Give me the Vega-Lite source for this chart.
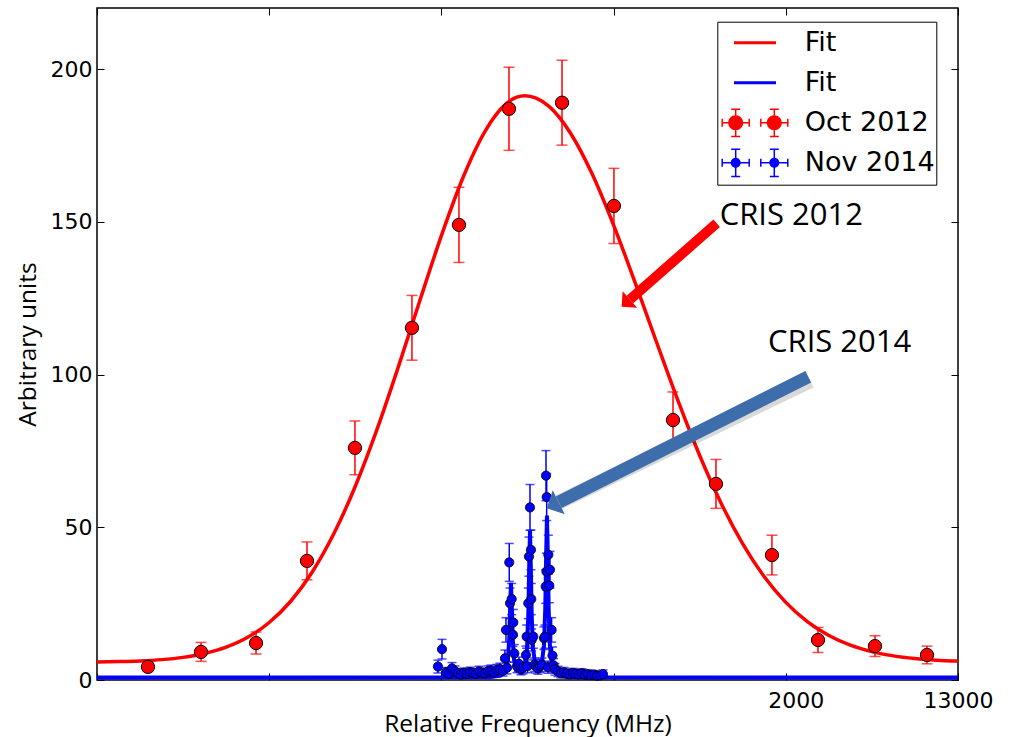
{
  "$schema": "https://vega.github.io/schema/vega-lite/v6.json",
  "width": 861,
  "height": 672,
  "autosize": {"type": "none"},
  "padding": {"left": 97, "top": 8, "right": 54, "bottom": 57},
  "background": "white",
  "config": {
    "view": {"stroke": "black", "strokeWidth": 1.5},
    "axis": {
      "grid": false,
      "domain": false,
      "tickColor": "black",
      "tickWidth": 1,
      "labelFont": "DejaVu Sans",
      "labelFontSize": 22,
      "labelColor": "black",
      "titleFont": "Open Sans",
      "titleFontSize": 24.5,
      "titleFontWeight": "normal",
      "titleColor": "black"
    }
  },
  "datasets": {
    "red": [
      {"x": -5408, "y": 4.3, "err": 1.5},
      {"x": -4792, "y": 9.2, "err": 3.1},
      {"x": -4153, "y": 12.1, "err": 3.6},
      {"x": -3561, "y": 39.0, "err": 6.2},
      {"x": -3004, "y": 76.0, "err": 8.8},
      {"x": -2342, "y": 115.3, "err": 10.6},
      {"x": -1796, "y": 149.0, "err": 12.3},
      {"x": -1215, "y": 187.0, "err": 13.6},
      {"x": -599, "y": 189.0, "err": 13.9},
      {"x": 4, "y": 155.2, "err": 12.3},
      {"x": 690, "y": 85.1, "err": 9.2},
      {"x": 1189, "y": 64.2, "err": 8.0},
      {"x": 1839, "y": 40.9, "err": 6.5},
      {"x": 2374, "y": 13.1, "err": 4.1},
      {"x": 3036, "y": 11.1, "err": 3.4},
      {"x": 3640, "y": 8.2, "err": 2.9}
    ],
    "blue": [
      {"x": -2040, "y": 4.4, "err": 2.1},
      {"x": -1993, "y": 10.1, "err": 3.2},
      {"x": -1947, "y": 2.5, "err": 1.6},
      {"x": -1912, "y": 2.0, "err": 1.4},
      {"x": -1877, "y": 3.8, "err": 1.9},
      {"x": -1842, "y": 2.9, "err": 1.7},
      {"x": -1807, "y": 2.2, "err": 1.5},
      {"x": -1773, "y": 1.8, "err": 1.3},
      {"x": -1738, "y": 2.4, "err": 1.5},
      {"x": -1703, "y": 2.0, "err": 1.4},
      {"x": -1668, "y": 2.6, "err": 1.6},
      {"x": -1633, "y": 2.3, "err": 1.5},
      {"x": -1598, "y": 2.0, "err": 1.4},
      {"x": -1564, "y": 2.8, "err": 1.7},
      {"x": -1529, "y": 2.4, "err": 1.5},
      {"x": -1494, "y": 2.2, "err": 1.5},
      {"x": -1459, "y": 2.9, "err": 1.7},
      {"x": -1424, "y": 3.1, "err": 1.8},
      {"x": -1389, "y": 2.5, "err": 1.6},
      {"x": -1354, "y": 3.3, "err": 1.8},
      {"x": -1320, "y": 3.6, "err": 1.9},
      {"x": -1285, "y": 3.0, "err": 1.7},
      {"x": -1262, "y": 7.1, "err": 2.7},
      {"x": -1250, "y": 16.4, "err": 4.0},
      {"x": -1238, "y": 4.0, "err": 2.0},
      {"x": -1212, "y": 38.5, "err": 6.2},
      {"x": -1203, "y": 25.1, "err": 5.0},
      {"x": -1184, "y": 26.5, "err": 5.1},
      {"x": -1169, "y": 14.8, "err": 3.8},
      {"x": -1165, "y": 18.8, "err": 4.3},
      {"x": -1153, "y": 8.7, "err": 2.9},
      {"x": -1122, "y": 4.5, "err": 2.1},
      {"x": -1099, "y": 5.2, "err": 2.3},
      {"x": -1076, "y": 3.6, "err": 1.9},
      {"x": -1053, "y": 4.0, "err": 2.0},
      {"x": -1018, "y": 8.2, "err": 2.9},
      {"x": -1010, "y": 14.2, "err": 3.8},
      {"x": -1000, "y": 4.5, "err": 2.1},
      {"x": -991, "y": 25.1, "err": 5.0},
      {"x": -983, "y": 40.4, "err": 6.4},
      {"x": -971, "y": 56.5, "err": 7.5},
      {"x": -960, "y": 42.6, "err": 6.5},
      {"x": -956, "y": 26.5, "err": 5.1},
      {"x": -952, "y": 13.1, "err": 3.6},
      {"x": -933, "y": 14.2, "err": 3.8},
      {"x": -919, "y": 5.0, "err": 2.2},
      {"x": -902, "y": 4.4, "err": 2.1},
      {"x": -878, "y": 3.9, "err": 2.0},
      {"x": -855, "y": 4.6, "err": 2.1},
      {"x": -832, "y": 5.0, "err": 2.2},
      {"x": -809, "y": 13.7, "err": 3.7},
      {"x": -797, "y": 14.2, "err": 3.8},
      {"x": -789, "y": 30.6, "err": 5.5},
      {"x": -785, "y": 66.9, "err": 8.2},
      {"x": -780, "y": 35.5, "err": 6.0},
      {"x": -777, "y": 59.9, "err": 7.7},
      {"x": -762, "y": 4.2, "err": 2.0},
      {"x": -758, "y": 41.0, "err": 6.4},
      {"x": -747, "y": 30.9, "err": 5.6},
      {"x": -739, "y": 36.1, "err": 6.0},
      {"x": -720, "y": 16.4, "err": 4.0},
      {"x": -710, "y": 8.0, "err": 2.8},
      {"x": -698, "y": 4.8, "err": 2.2},
      {"x": -681, "y": 3.5, "err": 1.9},
      {"x": -646, "y": 2.8, "err": 1.7},
      {"x": -611, "y": 2.2, "err": 1.5},
      {"x": -576, "y": 2.5, "err": 1.6},
      {"x": -541, "y": 2.1, "err": 1.4},
      {"x": -507, "y": 1.9, "err": 1.4},
      {"x": -472, "y": 2.3, "err": 1.5},
      {"x": -437, "y": 2.0, "err": 1.4},
      {"x": -402, "y": 1.8, "err": 1.3},
      {"x": -367, "y": 2.2, "err": 1.5},
      {"x": -332, "y": 1.7, "err": 1.3},
      {"x": -298, "y": 1.9, "err": 1.4},
      {"x": -263, "y": 1.6, "err": 1.3},
      {"x": -228, "y": 1.8, "err": 1.3},
      {"x": -193, "y": 1.4, "err": 1.2},
      {"x": -158, "y": 1.5, "err": 1.2},
      {"x": -123, "y": 1.9, "err": 1.4}
    ],
    "fit2012": [
      {"x": -6000, "y": 5.91},
      {"x": -5750, "y": 6.03},
      {"x": -5500, "y": 6.25},
      {"x": -5250, "y": 6.67},
      {"x": -5000, "y": 7.41},
      {"x": -4750, "y": 8.67},
      {"x": -4500, "y": 10.74},
      {"x": -4250, "y": 13.97},
      {"x": -4000, "y": 18.83},
      {"x": -3750, "y": 25.78},
      {"x": -3500, "y": 35.35},
      {"x": -3250, "y": 47.85},
      {"x": -3000, "y": 63.44},
      {"x": -2750, "y": 81.87},
      {"x": -2500, "y": 102.52},
      {"x": -2250, "y": 124.24},
      {"x": -2000, "y": 145.48},
      {"x": -1750, "y": 164.44},
      {"x": -1500, "y": 179.32},
      {"x": -1250, "y": 188.59},
      {"x": -1125, "y": 190.8},
      {"x": -1029, "y": 191.3},
      {"x": -900, "y": 190.5},
      {"x": -750, "y": 187.8},
      {"x": -500, "y": 179.0},
      {"x": -250, "y": 165.7},
      {"x": 0, "y": 148.9},
      {"x": 250, "y": 130.1},
      {"x": 500, "y": 110.5},
      {"x": 750, "y": 91.3},
      {"x": 1000, "y": 73.5},
      {"x": 1250, "y": 57.8},
      {"x": 1500, "y": 44.55},
      {"x": 1750, "y": 33.79},
      {"x": 2000, "y": 25.42},
      {"x": 2250, "y": 19.14},
      {"x": 2500, "y": 14.59},
      {"x": 2750, "y": 11.42},
      {"x": 3000, "y": 9.29},
      {"x": 3250, "y": 7.9},
      {"x": 3500, "y": 7.02},
      {"x": 3750, "y": 6.49},
      {"x": 4000, "y": 6.18}
    ],
    "fit2014": [
      {"x": -6000, "y": 0.8},
      {"x": -1442, "y": 0.9},
      {"x": -1312, "y": 1.4},
      {"x": -1252, "y": 3.1},
      {"x": -1227, "y": 6.7},
      {"x": -1212, "y": 13.8},
      {"x": -1202, "y": 23.7},
      {"x": -1192, "y": 31.8},
      {"x": -1182, "y": 23.7},
      {"x": -1172, "y": 13.8},
      {"x": -1157, "y": 6.7},
      {"x": -1132, "y": 3.1},
      {"x": -1072, "y": 2.4},
      {"x": -1031, "y": 4.7},
      {"x": -1006, "y": 10.1},
      {"x": -991, "y": 21.0},
      {"x": -981, "y": 36.3},
      {"x": -971, "y": 48.8},
      {"x": -961, "y": 36.3},
      {"x": -951, "y": 21.0},
      {"x": -936, "y": 10.5},
      {"x": -911, "y": 5.2},
      {"x": -864, "y": 3.8},
      {"x": -834, "y": 5.4},
      {"x": -809, "y": 11.4},
      {"x": -794, "y": 23.1},
      {"x": -784, "y": 40.0},
      {"x": -774, "y": 53.8},
      {"x": -764, "y": 40.0},
      {"x": -754, "y": 23.1},
      {"x": -739, "y": 10.9},
      {"x": -714, "y": 4.7},
      {"x": -654, "y": 1.9},
      {"x": -524, "y": 0.9},
      {"x": 4000, "y": 0.8}
    ],
    "legendItems": [
      {"series": "Fit (2012)"},
      {"series": "Fit (2014)"},
      {"series": "Oct 2012"},
      {"series": "Nov 2014"}
    ],
    "notes": [
      {"label": "CRIS 2012", "x": 1232, "y": 149.0},
      {"label": "CRIS 2014", "x": 1793, "y": 107.5}
    ],
    "arrowRed": [{"x": 1197, "y": 149.5, "x2": 190, "y2": 124.6, "hx": 141.4, "hy": 123.4}],
    "arrowBlue": [{"x": 2261, "y": 99.3, "x2": -637, "y2": 58.2, "hx": -707, "hy": 57.2}]
  },
  "layer": [
    {
      "data": {"name": "fit2012"},
      "mark": {"type": "line", "strokeWidth": 3.5, "interpolate": "monotone", "color": "#ff0000"},
      "encoding": {
        "x": {
          "field": "x", "type": "quantitative",
          "scale": {"domain": [-6000, 4000], "nice": false, "zero": false},
          "axis": {
            "orient": "bottom",
            "values": [-6000, -4000, -2000, 0, 2000, 4000],
            "labelExpr": "datum.value == 2000 ? '2000' : (datum.value == 4000 ? '13000' : '')",
            "labelOffset": {"condition": {"test": "datum.value == 2000", "value": 10}, "value": 0},
            "tickSize": -7,
            "labelPadding": 17,
            "labelOverlap": false,
            "labelFlush": false,
            "labelBound": false,
            "title": "Relative Frequency (MHz)",
            "titleBaseline": "alphabetic",
            "titleY": 51
          }
        },
        "y": {
          "field": "y", "type": "quantitative",
          "scale": {"domain": [0, 220], "nice": false, "zero": true},
          "axis": {
            "orient": "left",
            "values": [0, 50, 100, 150, 200],
            "tickSize": -7,
            "labelPadding": 12,
            "title": "Arbitrary units",
            "titleBaseline": "alphabetic",
            "titleAngle": -90,
            "titleAlign": "center",
            "titleX": -62,
            "titleY": 336
          }
        }
      }
    },
    {
      "data": {"name": "fit2014"},
      "mark": {"type": "line", "strokeWidth": 4, "interpolate": "linear", "color": "#0000ff"},
      "encoding": {
        "x": {"field": "x", "type": "quantitative", "axis": null},
        "y": {"field": "y", "type": "quantitative", "axis": null}
      }
    },
    {
      "data": {"name": "red"},
      "mark": {"type": "errorbar", "color": "#ff0000", "thickness": 1.5, "ticks": {"size": 11, "thickness": 1.5}},
      "encoding": {
        "x": {"field": "x", "type": "quantitative", "axis": null},
        "y": {"field": "y", "type": "quantitative", "axis": null},
        "yError": {"field": "err"}
      }
    },
    {
      "data": {"name": "red"},
      "mark": {"type": "circle", "size": 177, "color": "#ff0000", "opacity": 1, "stroke": "black", "strokeWidth": 1},
      "encoding": {
        "x": {"field": "x", "type": "quantitative", "axis": {"orient": "top", "values": [-6000, -4000, -2000, 0, 2000, 4000], "labels": false, "title": null, "tickSize": -7}},
        "y": {"field": "y", "type": "quantitative", "axis": {"orient": "right", "values": [0, 50, 100, 150, 200], "labels": false, "title": null, "tickSize": -7}}
      }
    },
    {
      "data": {"name": "blue"},
      "mark": {"type": "errorbar", "color": "#0000ff", "thickness": 1.5, "ticks": {"size": 9, "thickness": 1.5}},
      "encoding": {
        "x": {"field": "x", "type": "quantitative", "axis": null},
        "y": {"field": "y", "type": "quantitative", "axis": null},
        "yError": {"field": "err"}
      }
    },
    {
      "data": {"name": "blue"},
      "mark": {"type": "circle", "size": 85, "color": "#0000ff", "opacity": 1, "stroke": "black", "strokeWidth": 0.8},
      "encoding": {
        "x": {"field": "x", "type": "quantitative", "axis": null},
        "y": {"field": "y", "type": "quantitative", "axis": null}
      }
    },
    {
      "data": {"name": "arrowRed"},
      "mark": {"type": "rule", "color": "#ff0000", "strokeWidth": 10, "strokeCap": "butt"},
      "encoding": {
        "x": {"field": "x", "type": "quantitative", "axis": null},
        "y": {"field": "y", "type": "quantitative", "axis": null},
        "x2": {"field": "x2"},
        "y2": {"field": "y2"}
      }
    },
    {
      "data": {"name": "arrowRed"},
      "mark": {"type": "point", "shape": "M0,-0.5L1,0.5L-1,0.5Z", "size": 484, "angle": 228.7, "filled": true, "color": "#ff0000", "opacity": 1},
      "encoding": {
        "x": {"field": "hx", "type": "quantitative", "axis": null},
        "y": {"field": "hy", "type": "quantitative", "axis": null}
      }
    },
    {
      "data": {"name": "arrowBlue"},
      "mark": {"type": "rule", "color": "#000000", "opacity": 0.15, "strokeWidth": 15, "strokeCap": "butt", "xOffset": 2, "yOffset": 4},
      "encoding": {
        "x": {"field": "x", "type": "quantitative", "axis": null},
        "y": {"field": "y", "type": "quantitative", "axis": null},
        "x2": {"field": "x2"},
        "y2": {"field": "y2"}
      }
    },
    {
      "data": {"name": "arrowBlue"},
      "mark": {"type": "rule", "color": "#3d6eab", "strokeWidth": 13, "strokeCap": "butt"},
      "encoding": {
        "x": {"field": "x", "type": "quantitative", "axis": null},
        "y": {"field": "y", "type": "quantitative", "axis": null},
        "x2": {"field": "x2"},
        "y2": {"field": "y2"}
      }
    },
    {
      "data": {"name": "arrowBlue"},
      "mark": {"type": "point", "shape": "M0,-0.5L1,0.5L-1,0.5Z", "size": 729, "angle": 243.5, "filled": true, "color": "#3d6eab", "opacity": 1},
      "encoding": {
        "x": {"field": "hx", "type": "quantitative", "axis": null},
        "y": {"field": "hy", "type": "quantitative", "axis": null}
      }
    },
    {
      "data": {"name": "notes"},
      "mark": {"type": "text", "font": "Open Sans", "fontSize": 31, "align": "left", "baseline": "alphabetic", "color": "black"},
      "encoding": {
        "x": {"field": "x", "type": "quantitative", "axis": null},
        "y": {"field": "y", "type": "quantitative", "axis": null},
        "text": {"field": "label"}
      }
    },
    {
      "data": {"name": "legendItems"},
      "mark": {"type": "point", "filled": true, "opacity": 0},
      "encoding": {
        "color": {
          "field": "series", "type": "nominal",
          "scale": {"domain": ["Fit (2012)", "Fit (2014)", "Oct 2012", "Nov 2014"], "range": ["#ff0000", "#0000ff", "#ff0000", "#0000ff"]},
          "legend": {
            "orient": "none", "legendX": 620.3, "legendY": 13.7, "title": null,
            "padding": 1.5, "clipHeight": 39.25, "rowPadding": 0,
            "symbolSize": 1764, "symbolOffset": 15.2, "labelOffset": 28.7,
            "symbolOpacity": 1, "symbolStrokeWidth": 0,
            "labelFont": "DejaVu Sans", "labelFontSize": 27, "labelColor": "black",
            "strokeColor": "black", "fillColor": "white",
            "labelExpr": "indexof(datum.label, 'Fit') == 0 ? 'Fit\u00a0\u00a0' : datum.label + '\u00a0\u00a0'"
          }
        },
        "shape": {
          "field": "series", "type": "nominal",
          "scale": {
            "domain": ["Fit (2012)", "Fit (2014)", "Oct 2012", "Nov 2014"],
            "range": [
              "M-1,-0.071L1,-0.071L1,0.071L-1,0.071Z",
              "M-1,-0.071L1,-0.071L1,0.071L-1,0.071Z",
              "M-1.562,-0.036L-0.276,-0.036L-0.276,0.036L-1.562,0.036ZM-1.598,-0.19L-1.526,-0.19L-1.526,0.19L-1.598,0.19ZM-0.312,-0.19L-0.24,-0.19L-0.24,0.19L-0.312,0.19ZM-0.955,-0.652L-0.883,-0.652L-0.883,0.652L-0.955,0.652ZM-1.133,-0.688L-0.705,-0.688L-0.705,-0.616L-1.133,-0.616ZM-1.133,0.616L-0.705,0.616L-0.705,0.688L-1.133,0.688ZM-1.276,0A0.357,0.357,0,1,1,-0.562,0A0.357,0.357,0,1,1,-1.276,0ZM0.276,-0.036L1.562,-0.036L1.562,0.036L0.276,0.036ZM0.24,-0.19L0.312,-0.19L0.312,0.19L0.24,0.19ZM1.526,-0.19L1.598,-0.19L1.598,0.19L1.526,0.19ZM0.883,-0.652L0.955,-0.652L0.955,0.652L0.883,0.652ZM0.705,-0.688L1.133,-0.688L1.133,-0.616L0.705,-0.616ZM0.705,0.616L1.133,0.616L1.133,0.688L0.705,0.688ZM0.562,0A0.357,0.357,0,1,1,1.276,0A0.357,0.357,0,1,1,0.562,0Z",
              "M-1.562,-0.036L-0.276,-0.036L-0.276,0.036L-1.562,0.036ZM-1.598,-0.19L-1.526,-0.19L-1.526,0.19L-1.598,0.19ZM-0.312,-0.19L-0.24,-0.19L-0.24,0.19L-0.312,0.19ZM-0.955,-0.652L-0.883,-0.652L-0.883,0.652L-0.955,0.652ZM-1.133,-0.688L-0.705,-0.688L-0.705,-0.616L-1.133,-0.616ZM-1.133,0.616L-0.705,0.616L-0.705,0.688L-1.133,0.688ZM-1.157,0A0.238,0.238,0,1,1,-0.681,0A0.238,0.238,0,1,1,-1.157,0ZM0.276,-0.036L1.562,-0.036L1.562,0.036L0.276,0.036ZM0.24,-0.19L0.312,-0.19L0.312,0.19L0.24,0.19ZM1.526,-0.19L1.598,-0.19L1.598,0.19L1.526,0.19ZM0.883,-0.652L0.955,-0.652L0.955,0.652L0.883,0.652ZM0.705,-0.688L1.133,-0.688L1.133,-0.616L0.705,-0.616ZM0.705,0.616L1.133,0.616L1.133,0.688L0.705,0.688ZM0.681,0A0.238,0.238,0,1,1,1.157,0A0.238,0.238,0,1,1,0.681,0Z"
            ]
          },
          "legend": {
            "orient": "none", "legendX": 620.3, "legendY": 13.7, "title": null,
            "padding": 1.5, "clipHeight": 39.25, "rowPadding": 0,
            "symbolSize": 1764, "symbolOffset": 15.2, "labelOffset": 28.7,
            "symbolOpacity": 1, "symbolStrokeWidth": 0,
            "labelFont": "DejaVu Sans", "labelFontSize": 27, "labelColor": "black",
            "strokeColor": "black", "fillColor": "white",
            "labelExpr": "indexof(datum.label, 'Fit') == 0 ? 'Fit\u00a0\u00a0' : datum.label + '\u00a0\u00a0'"
          }
        }
      }
    }
  ],
  "resolve": {"axis": {"x": "independent", "y": "independent"}}
}
